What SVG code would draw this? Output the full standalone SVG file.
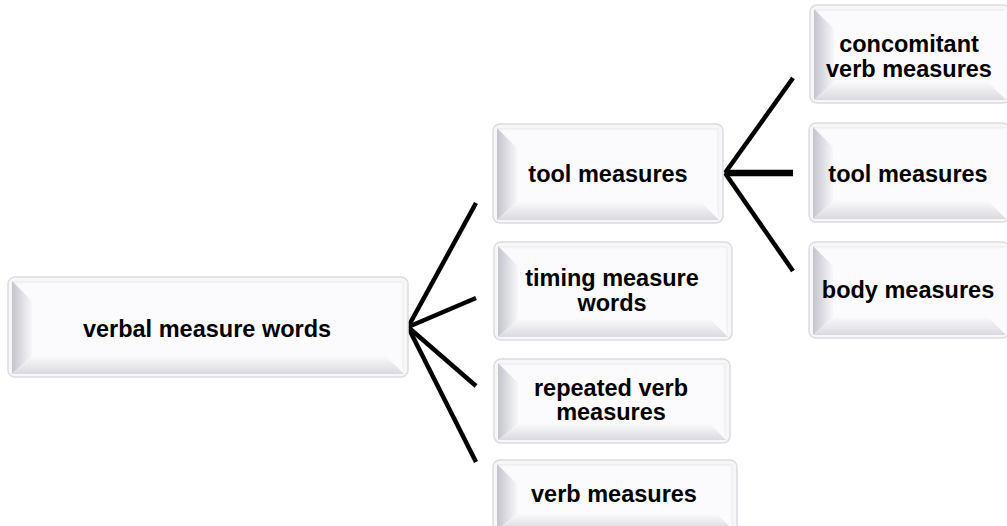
<svg xmlns="http://www.w3.org/2000/svg" width="1007" height="526" viewBox="0 0 1007 526">
  <defs>
    <linearGradient id="bevL" x1="0" y1="0" x2="1" y2="0">
      <stop offset="0" stop-color="#c4c4ce"/>
      <stop offset="1" stop-color="#f7f7fa"/>
    </linearGradient>
    <linearGradient id="bevB" x1="0" y1="0" x2="0" y2="1">
      <stop offset="0" stop-color="#fafafc"/>
      <stop offset="1" stop-color="#d9d9e0"/>
    </linearGradient>
    <linearGradient id="bevR" x1="0" y1="0" x2="1" y2="0">
      <stop offset="0" stop-color="#fafafc"/>
      <stop offset="1" stop-color="#ededf1"/>
    </linearGradient>
    <linearGradient id="bevT" x1="0" y1="0" x2="0" y2="1">
      <stop offset="0" stop-color="#ececf0"/>
      <stop offset="1" stop-color="#fbfbfd"/>
    </linearGradient>
    <style>
      .frame { fill: #f7f7f9; stroke: #dcdce1; stroke-width: 1.5; }
      .face { fill: #fbfbfd; }
      .bl { fill: url(#bevL); }
      .bb { fill: url(#bevB); }
      .br { fill: url(#bevR); }
      .bt { fill: url(#bevT); }
      .lbl { font-family: "Liberation Sans", Arial, sans-serif; font-weight: bold; font-size: 23.5px; fill: #000; text-anchor: middle; }
      .conn line { stroke: #000; stroke-width: 4.5; stroke-linecap: butt; }
      .conn line.thick { stroke-width: 6.5; }
    </style>
  </defs>

  <!-- connectors -->
  <g id="connectors" class="conn">
    <line x1="408" y1="327" x2="476" y2="203"/>
    <line x1="408" y1="327" x2="476" y2="298"/>
    <line x1="408" y1="327" x2="476" y2="386"/>
    <line x1="408" y1="327" x2="476" y2="462"/>
    <line x1="725" y1="173" x2="793" y2="78"/>
    <line class="thick" x1="725" y1="173" x2="793" y2="173"/>
    <line x1="725" y1="173" x2="793" y2="271"/>
  </g>

  <!-- root -->
  <g id="node-root">
    <rect class="frame" x="8" y="277" width="400" height="100" rx="7"/>
    <rect class="face" x="12" y="281" width="392" height="93"/>
    <polygon class="bt" points="12,281 404,281 401,284 15,284"/>
    <polygon class="bl" points="12,281 32,301 32,356 12,374"/>
    <polygon class="br" points="404,281 401,284 401,360 404,374"/>
    <polygon class="bb" points="12,374 32,356 386,356 404,374"/>
    <text class="lbl" x="207" y="337">verbal measure words</text>
  </g>

  <!-- level 1 -->
  <g id="node-tool-measures">
    <rect class="frame" x="493" y="124" width="230" height="99" rx="7"/>
    <rect class="face" x="497" y="128" width="222" height="92"/>
    <polygon class="bt" points="497,128 719,128 716,131 500,131"/>
    <polygon class="bl" points="497,128 517,148 517,202 497,220"/>
    <polygon class="br" points="719,128 716,131 716,206 719,220"/>
    <polygon class="bb" points="497,220 517,202 701,202 719,220"/>
    <text class="lbl" x="608" y="182">tool measures</text>
  </g>

  <g id="node-timing">
    <rect class="frame" x="494" y="242" width="238" height="98" rx="7"/>
    <rect class="face" x="498" y="246" width="230" height="91"/>
    <polygon class="bt" points="498,246 728,246 725,249 501,249"/>
    <polygon class="bl" points="498,246 518,266 518,319 498,337"/>
    <polygon class="br" points="728,246 725,249 725,323 728,337"/>
    <polygon class="bb" points="498,337 518,319 710,319 728,337"/>
    <text class="lbl" x="612" y="286">timing measure</text>
    <text class="lbl" x="612" y="311">words</text>
  </g>

  <g id="node-repeated">
    <rect class="frame" x="494" y="359" width="236" height="84" rx="7"/>
    <rect class="face" x="498" y="363" width="228" height="77"/>
    <polygon class="bt" points="498,363 726,363 723,366 501,366"/>
    <polygon class="bl" points="498,363 518,383 518,424 498,440"/>
    <polygon class="br" points="726,363 723,366 723,428 726,440"/>
    <polygon class="bb" points="498,440 518,424 710,424 726,440"/>
    <text class="lbl" x="611" y="396">repeated verb</text>
    <text class="lbl" x="611" y="420">measures</text>
  </g>

  <g id="node-verb">
    <rect class="frame" x="493" y="460" width="244" height="72" rx="7"/>
    <rect class="face" x="497" y="464" width="236" height="62"/>
    <polygon class="bt" points="497,464 733,464 730,467 500,467"/>
    <polygon class="bl" points="497,464 517,484 517,514 497,530"/>
    <polygon class="br" points="733,464 730,467 730,518 733,530"/>
    <polygon class="bb" points="497,530 517,514 717,514 733,530"/>
    <text class="lbl" x="614" y="502">verb measures</text>
  </g>

  <!-- level 2 -->
  <g id="node-concomitant">
    <rect class="frame" x="810" y="5" width="200" height="98" rx="7"/>
    <rect class="face" x="814" y="9" width="192" height="91"/>
    <polygon class="bt" points="814,9 1006,9 1003,12 817,12"/>
    <polygon class="bl" points="814,9 834,29 834,82 814,100"/>
    <polygon class="bb" points="814,100 834,82 988,82 1006,100"/>
    <text class="lbl" x="909" y="52">concomitant</text>
    <text class="lbl" x="909" y="77">verb measures</text>
  </g>

  <g id="node-tool-measures-2">
    <rect class="frame" x="809" y="123" width="200" height="99" rx="7"/>
    <rect class="face" x="813" y="127" width="193" height="92"/>
    <polygon class="bt" points="813,127 1006,127 1003,130 816,130"/>
    <polygon class="bl" points="813,127 833,147 833,201 813,219"/>
    <polygon class="bb" points="813,219 833,201 988,201 1006,219"/>
    <text class="lbl" x="908" y="182">tool measures</text>
  </g>

  <g id="node-body">
    <rect class="frame" x="809" y="242" width="200" height="96" rx="7"/>
    <rect class="face" x="813" y="246" width="193" height="89"/>
    <polygon class="bt" points="813,246 1006,246 1003,249 816,249"/>
    <polygon class="bl" points="813,246 833,266 833,317 813,335"/>
    <polygon class="bb" points="813,335 833,317 988,317 1006,335"/>
    <text class="lbl" x="908" y="298">body measures</text>
  </g>
</svg>
